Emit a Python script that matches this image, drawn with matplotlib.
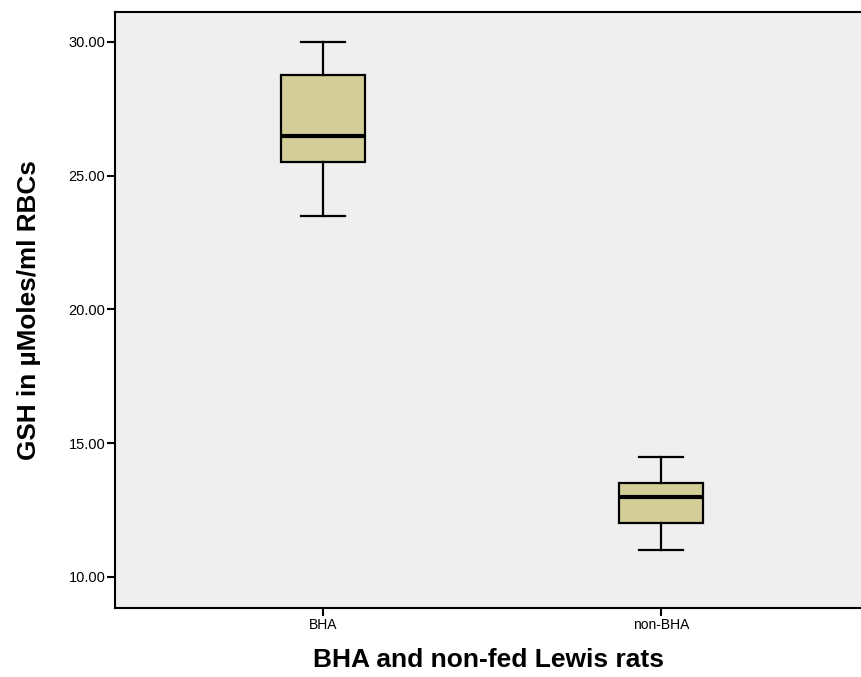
import matplotlib.pyplot as plt

# data
groups = ['BHA', 'non-BHA']
whisker_low = [23.5, 11.0]
q1 = [25.5, 12.0]
median = [26.5, 13.0]
q3 = [28.75, 13.5]
whisker_high = [30.0, 14.5]
y_ticks = [10, 15, 20, 25, 30]

plt.rcParams['font.family'] = ['Liberation Sans', 'DejaVu Sans']

stats = []
for i, name in enumerate(groups):
    stats.append({'label': name, 'whislo': whisker_low[i], 'q1': q1[i],
                  'med': median[i], 'q3': q3[i], 'whishi': whisker_high[i],
                  'fliers': []})

fig = plt.figure(figsize=(8.62, 6.77), dpi=100)
ax = fig.add_axes([115 / 862, 1 - 608 / 677, 1 - 115 / 862, (608 - 12) / 677])
ax.set_facecolor('#efefef')

ax.bxp(stats, positions=[1, 2], widths=0.25, patch_artist=True,
       boxprops=dict(facecolor='#d3ce97', edgecolor='black', linewidth=1.6),
       medianprops=dict(color='black', linewidth=3),
       whiskerprops=dict(color='black', linewidth=1.6),
       capprops=dict(color='black', linewidth=1.6),
       capwidths=0.13)

ax.set_xlim(0.385, 2.595)
ax.set_ylim(8.84, 31.12)
ax.set_yticks(y_ticks)
ax.set_yticklabels([f'{v:.2f}' for v in y_ticks], fontsize=10.5)
ax.set_xticks([1, 2])
ax.set_xticklabels(groups, fontsize=10)

ax.spines['right'].set_visible(False)
for s in ['left', 'bottom', 'top']:
    ax.spines[s].set_linewidth(1.5)
ax.tick_params(axis='both', length=6, width=1.5, pad=1)

ax.set_xlabel('BHA and non-fed Lewis rats', fontsize=19, fontweight='bold', labelpad=12)
ax.set_ylabel('GSH in µMoles/ml RBCs', fontsize=18.8, fontweight='bold', labelpad=20)

fig.savefig('out.png', dpi=100)
